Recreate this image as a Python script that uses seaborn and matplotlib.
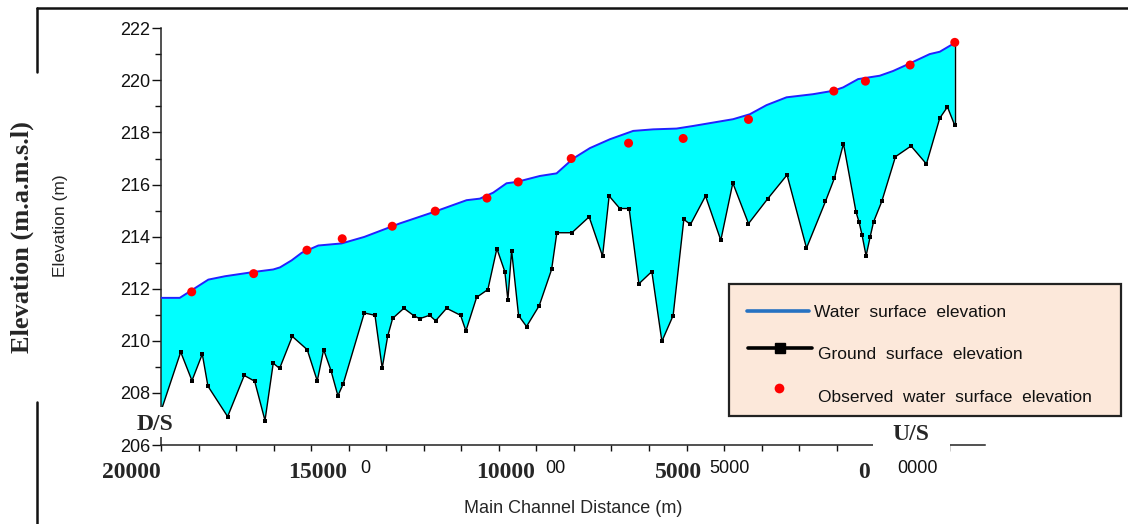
import numpy as np
import matplotlib
matplotlib.use("Agg")
import matplotlib.pyplot as plt
from matplotlib.lines import Line2D
from matplotlib.patches import Rectangle
import seaborn as sns

# ---------------- data ----------------
ground_dist = [0, 210, 330, 440, 500, 710, 887, 998, 1108, 1196, 1264, 1399, 1558, 1665,
               1733, 1811, 1885, 1942, 2166, 2280, 2357, 2415, 2468, 2588, 2692, 2756,
               2862, 2926, 3043, 3192, 3249, 3363, 3483, 3579, 3664, 3696, 3736, 3810,
               3895, 4030, 4162, 4218, 4378, 4562, 4705, 4775, 4889, 4988, 5092, 5230,
               5337, 5457, 5571, 5642, 5802, 5965, 6093, 6260, 6466, 6671, 6878, 7080,
               7176, 7272, 7406, 7438, 7470, 7513, 7555, 7592, 7680, 7826, 7992, 8156,
               8298, 8380, 8458]
ground_elev = [207.30, 209.57, 208.47, 209.49, 208.26, 207.09, 208.67, 208.45, 206.94,
               209.14, 208.94, 210.17, 209.66, 208.46, 209.66, 208.86, 207.89, 208.35,
               211.07, 210.98, 208.95, 210.17, 210.86, 211.25, 210.97, 210.85, 210.98,
               210.77, 211.25, 210.98, 210.38, 211.67, 211.97, 213.54, 212.65, 211.57,
               213.46, 210.97, 210.55, 211.35, 212.74, 214.15, 214.15, 214.76, 213.25,
               215.56, 215.08, 215.08, 212.19, 212.66, 209.98, 210.97, 214.66, 214.47,
               215.56, 213.86, 216.06, 214.50, 215.46, 216.37, 213.56, 215.35, 216.25,
               217.57, 214.94, 214.56, 214.06, 213.26, 213.97, 214.56, 215.35, 217.07,
               217.48, 216.79, 218.55, 218.98, 218.27]

ws_dist = [0, 200, 504, 682, 1001, 1196, 1268, 1392, 1499, 1676, 1925, 2166, 2546, 2901,
           3256, 3398, 3540, 3682, 3789, 4037, 4215, 4392, 4570, 4783, 5031, 5244, 5493,
           5670, 6096, 6274, 6452, 6665, 6948, 7161, 7268, 7428, 7659, 7800, 7978, 8191,
           8298, 8458]
ws_elev = [211.65, 211.65, 212.35, 212.48, 212.65, 212.74, 212.82, 213.09, 213.38, 213.66,
           213.74, 213.99, 214.51, 214.94, 215.40, 215.46, 215.69, 216.05, 216.10, 216.33,
           216.43, 217.00, 217.40, 217.74, 218.06, 218.12, 218.15, 218.25, 218.51, 218.70,
           219.05, 219.35, 219.47, 219.60, 219.73, 220.05, 220.18, 220.36, 220.65, 221.01,
           221.10, 221.44]

obs_dist = [327, 987, 1555, 1931, 2464, 2922, 3473, 3806, 4371, 4982, 5564, 6260, 7169,
            7506, 7982, 8458]
obs_elev = [211.88, 212.58, 213.48, 213.92, 214.40, 214.98, 215.48, 216.10, 217.00,
            217.59, 217.77, 218.50, 219.59, 219.97, 220.59, 221.46]

y_ticks = list(range(206, 223, 2))
dist_labels = ["20000", "15000", "10000", "5000", "0"]
remnant_labels = ["0", "00", "5000", "0000"]
legend_labels = ["Water  surface  elevation", "Ground  surface  elevation",
                 "Observed  water  surface  elevation"]

# ---------------- layout helpers ----------------
W, H = 1128, 524
sns.set_style("ticks")
plt.rcParams["font.family"] = ["Liberation Sans", "DejaVu Sans"]

fig = plt.figure(figsize=(W / 100, H / 100), dpi=100)
fig.patch.set_facecolor("white")


def fx(px):
    return px / W


def fy(py):
    return 1 - py / H


ax = fig.add_axes([fx(161), fy(445), (985 - 161) / W, (445 - 28.3) / H])
ax.set_facecolor("white")

# fill between ground and water surface
poly_x = np.r_[ws_dist, ground_dist[::-1]]
poly_y = np.r_[ws_elev, ground_elev[::-1]]
ax.fill(poly_x, poly_y, color="#00FFFF", lw=0, zorder=1)

sns.lineplot(x=ws_dist, y=ws_elev, ax=ax, color="#2222FF", lw=1.4, estimator=None,
             sort=False, zorder=3)
sns.lineplot(x=ground_dist, y=ground_elev, ax=ax, color="black", lw=1.0, marker="s",
             markersize=3.4, markeredgewidth=0, estimator=None, sort=False, zorder=4)
ax.vlines(ground_dist[-1], ground_elev[-1], ws_elev[-1], color="black", lw=1.0, zorder=4)
sns.scatterplot(x=obs_dist, y=obs_elev, ax=ax, color="red", s=42, edgecolor="none",
                zorder=5, legend=False)

ax.set_xlim(0, 8780)
ax.set_ylim(206, 222)
for s in ["top", "right"]:
    ax.spines[s].set_visible(False)
for s in ["left", "bottom"]:
    ax.spines[s].set_color("#222222")
    ax.spines[s].set_linewidth(1.1)

ax.set_xticks(np.arange(0, 8780, 400))
ax.set_xticklabels([])
ax.set_yticks(y_ticks)
ax.set_yticklabels([str(t) for t in y_ticks])
ax.set_yticks(np.arange(207, 222, 2), minor=True)
ax.tick_params(axis="y", which="major", length=6.5, width=1, labelsize=13, pad=1.5,
               colors="#111111")
ax.tick_params(axis="y", which="minor", length=4.3, width=1, colors="#111111")
ax.tick_params(axis="x", which="major", length=4.3, width=1, colors="#111111")
ax.set_xlabel("")
ax.set_ylabel("")

# ---------------- decorations ----------------
frame_kw = dict(color="#111111", lw=1.8, transform=fig.transFigure)
fig.add_artist(Line2D([fx(37), 1.0], [fy(8), fy(8)], **frame_kw))
fig.add_artist(Line2D([fx(37), fx(37)], [fy(8), fy(72)], **frame_kw))
fig.add_artist(Line2D([fx(37), fx(37)], [fy(402), 0.0], **frame_kw))

fig.text(fx(22), fy(237), "Elevation (m.a.m.s.l)", rotation=90, ha="center", va="center",
         family="Liberation Serif", weight="bold", size=19)
fig.text(fx(61), fy(226), "Elevation (m)", rotation=90, ha="center", va="center", size=12.5)
fig.text(fx(573), fy(513), "Main Channel Distance (m)", ha="center", va="baseline", size=13)

# remnant labels from the original axis
remnant_px = [365, 555, 730, 917]
for lab, px in zip(remnant_labels, remnant_px):
    fig.text(fx(px), fy(473), lab, ha="center", va="baseline", size=13, color="#111111")

# overlaid distance labels
dist_px = [131, 317.5, 506, 678.5, 864]
for lab, px in zip(dist_labels, dist_px):
    fig.text(fx(px), fy(478), lab, ha="center", va="baseline", family="Liberation Serif",
             weight="bold", size=17)

# D/S and U/S boxes
fig.add_artist(Rectangle((fx(122), fy(437)), (188 - 122) / W, (437 - 407) / H,
                         transform=fig.transFigure, facecolor="white", edgecolor="none",
                         zorder=2))
fig.text(fx(155), fy(430), "D/S", ha="center", va="baseline", family="Liberation Serif",
         weight="bold", size=17, zorder=3)
fig.add_artist(Rectangle((fx(873), fy(452)), (950 - 873) / W, (452 - 417) / H,
                         transform=fig.transFigure, facecolor="white", edgecolor="none",
                         zorder=2))
fig.text(fx(911), fy(440), "U/S", ha="center", va="baseline", family="Liberation Serif",
         weight="bold", size=17, zorder=3)

# legend box
fig.add_artist(Rectangle((fx(729), fy(416)), (1121 - 729) / W, (416 - 284) / H,
                         transform=fig.transFigure, facecolor="#FCE8DA",
                         edgecolor="#222222", lw=1.6, zorder=2))
fig.add_artist(Line2D([fx(747), fx(809)], [fy(311), fy(311)], color="#2672C2", lw=2.6,
                      transform=fig.transFigure, zorder=3))
fig.add_artist(Line2D([fx(748), fx(812)], [fy(347.5), fy(347.5)], color="black", lw=2.6,
                      transform=fig.transFigure, zorder=3))
fig.add_artist(Line2D([fx(780)], [fy(347.5)], color="black", marker="s", markersize=7,
                      lw=0, transform=fig.transFigure, zorder=4))
fig.add_artist(Line2D([fx(778.7)], [fy(388.3)], color="red", marker="o", markersize=7,
                      markeredgewidth=0, lw=0, transform=fig.transFigure, zorder=4))
leg_pos = [(814.3, 316.7), (817.7, 359.3), (817.7, 401.7)]
for lab, (px, py) in zip(legend_labels, leg_pos):
    fig.text(fx(px), fy(py), lab, ha="left", va="baseline", size=12.5, color="#111111",
             zorder=5)

fig.savefig("out.png", dpi=100, facecolor="white")
